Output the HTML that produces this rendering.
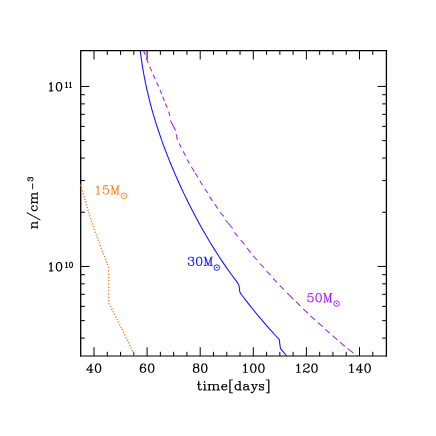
<!DOCTYPE html>
<html><head><meta charset="utf-8"><style>
html,body{margin:0;padding:0;background:#fff;}
svg{display:block;font-family:"Liberation Serif",serif;}
</style></head><body>
<svg width="436" height="436" viewBox="0 0 436 436">
<rect width="436" height="436" fill="#fff"/>
<path d="M80.05 50.70H387.05" stroke="#000" stroke-width="1.3" fill="none"/>
<path d="M80.05 356.00H387.05" stroke="#000" stroke-width="1.08" fill="none"/>
<path d="M80.70 50.05V356.60" stroke="#000" stroke-width="1.3" fill="none"/>
<path d="M386.40 50.05V356.60" stroke="#000" stroke-width="1.3" fill="none"/>
<path d="M94.00 356.00v-8.80M94.00 50.70v8.80M107.28 356.00v-4.20M107.28 50.70v4.20M120.55 356.00v-4.20M120.55 50.70v4.20M133.82 356.00v-4.20M133.82 50.70v4.20M147.10 356.00v-8.80M147.10 50.70v8.80M160.38 356.00v-4.20M160.38 50.70v4.20M173.65 356.00v-4.20M173.65 50.70v4.20M186.93 356.00v-4.20M186.93 50.70v4.20M200.20 356.00v-8.80M200.20 50.70v8.80M213.47 356.00v-4.20M213.47 50.70v4.20M226.75 356.00v-4.20M226.75 50.70v4.20M240.02 356.00v-4.20M240.02 50.70v4.20M253.30 356.00v-8.80M253.30 50.70v8.80M266.57 356.00v-4.20M266.57 50.70v4.20M279.85 356.00v-4.20M279.85 50.70v4.20M293.12 356.00v-4.20M293.12 50.70v4.20M306.40 356.00v-8.80M306.40 50.70v8.80M319.67 356.00v-4.20M319.67 50.70v4.20M332.95 356.00v-4.20M332.95 50.70v4.20M346.23 356.00v-4.20M346.23 50.70v4.20M359.50 356.00v-8.80M359.50 50.70v8.80M372.77 356.00v-4.20M372.77 50.70v4.20M80.70 338.08h4.20M386.40 338.08h-4.20M80.70 320.64h4.20M386.40 320.64h-4.20M80.70 306.38h4.20M386.40 306.38h-4.20M80.70 294.33h4.20M386.40 294.33h-4.20M80.70 283.89h4.20M386.40 283.89h-4.20M80.70 274.69h4.20M386.40 274.69h-4.20M80.70 266.45h8.80M386.40 266.45h-8.80M80.70 212.26h4.20M386.40 212.26h-4.20M80.70 180.57h4.20M386.40 180.57h-4.20M80.70 158.08h4.20M386.40 158.08h-4.20M80.70 140.64h4.20M386.40 140.64h-4.20M80.70 126.38h4.20M386.40 126.38h-4.20M80.70 114.33h4.20M386.40 114.33h-4.20M80.70 103.89h4.20M386.40 103.89h-4.20M80.70 94.69h4.20M386.40 94.69h-4.20M80.70 86.45h8.80M386.40 86.45h-8.80" stroke="#000" stroke-width="1.0" fill="none"/>
<path d="M80.50 185.50h0.01M81.41 188.24h0.01M82.32 190.97h0.01M83.18 193.73h0.01M84.02 196.49h0.01M84.86 199.25h0.01M85.65 202.03h0.01M86.43 204.80h0.01M87.21 207.58h0.01M87.99 210.36h0.01M88.85 213.11h0.01M89.71 215.87h0.01M90.57 218.62h0.01M91.48 221.36h0.01M92.38 224.10h0.01M93.29 226.84h0.01M94.24 229.56h0.01M95.28 232.25h0.01M96.33 234.94h0.01M97.38 237.63h0.01M98.41 240.32h0.01M99.35 243.05h0.01M100.30 245.78h0.01M101.30 248.48h0.01M102.30 251.19h0.01M103.36 253.87h0.01M104.50 256.52h0.01M105.64 259.17h0.01M106.63 261.88h0.01M107.60 264.60h0.01M108.60 267.60h0.01M108.61 270.90h0.01M108.63 274.20h0.01M108.64 277.50h0.01M108.66 280.80h0.01M108.67 284.10h0.01M108.69 287.40h0.01M108.70 290.70h0.01M108.72 294.00h0.01M108.73 297.30h0.01M108.75 300.60h0.01M109.00 303.70h0.01M110.60 306.60h0.01M111.90 309.18h0.01M113.19 311.76h0.01M114.49 314.34h0.01M115.78 316.93h0.01M117.08 319.51h0.01M118.37 322.09h0.01M119.67 324.67h0.01M120.96 327.25h0.01M122.26 329.83h0.01M123.56 332.41h0.01M124.81 335.02h0.01M126.05 337.63h0.01M127.28 340.24h0.01M128.52 342.85h0.01M129.76 345.46h0.01M130.99 348.07h0.01M132.23 350.68h0.01M133.46 353.29h0.01M134.70 355.90h0.01" stroke="#ff7a1c" stroke-width="1.5" stroke-linecap="round" fill="none"/>
<path d="M140.24 50.60 L140.86 55.53 L141.54 60.46 L142.29 65.40 L143.10 70.33 L143.98 75.26 L144.93 80.19 L145.94 85.12 L147.02 90.06 L148.16 94.99 L149.37 99.92 L150.65 104.85 L151.99 109.78 L153.40 114.71 L154.87 119.65 L156.40 124.58 L158.00 129.51 L159.66 134.44 L161.37 139.37 L163.15 144.31 L164.98 149.24 L166.87 154.17 L168.81 159.10 L170.81 164.03 L172.87 168.97 L174.98 173.90 L177.14 178.83 L179.36 183.76 L181.63 188.69 L183.95 193.63 L186.33 198.56 L188.76 203.49 L191.26 208.42 L193.80 213.35 L196.41 218.29 L199.08 223.22 L201.82 228.15 L204.62 233.08 L207.49 238.01 L210.44 242.94 L213.47 247.88 L216.58 252.81 L219.78 257.74 L223.07 262.67 L226.47 267.60 L229.97 272.54 L233.59 277.47 L237.33 282.40 L238.90 285.30 L239.40 288.30 L239.55 290.60 L240.30 293.20 L242.54 296.00 L246.22 300.84 L249.99 305.69 L253.87 310.53 L257.85 315.38 L261.94 320.22 L266.13 325.07 L270.42 329.91 L274.82 334.76 L279.31 339.60 L279.75 343.50 L280.50 348.60 L286.70 356.00" stroke="#1414ff" stroke-width="1.08" stroke-linejoin="round" fill="none"/>
<path d="M143.5 50.5L145.2 54.9M146.3 58.3L148.3 63.1M149.7 66.6L151.8 71.4M153.1 74.8L155.2 79M156.6 82.4L158.6 86.5M160 90L161.7 94.1M162.8 96.8L164.4 101M165.3 103.5L167.3 107.8M168.8 111.7L169.7 116.2M170.4 120.4L175.6 130.5M176.3 134.4L177.4 139.9M179.2 143.5L181.2 147.5M183.1 151.2L185.4 155.7M187.1 159.4L189.4 163.6M191.4 167L194.3 171.7M195.2 173L197.9 177.4M199.8 180.8L202.5 185.2M204.8 189L207.8 193M209.5 196.6L212.5 200.9M214.7 204.3L217.9 208.6M219.9 212L223.7 216.4M225.4 220L232.7 228.5M234.4 232.4L237.9 236.5M240.7 240.2L244.7 244.5M247.0 248.2L250.8 252.6M253.2 255.9L257 260M259.8 263.5L263.9 267.7M266.4 271L270.5 275.2M273.1 278.3L277 282.3M279.8 285.7L283.9 289.6M287.0 292.9L293.6 299.3M295.9 301.7L300.4 305.9M303.2 308.9L308 313.3M310.5 315.8L314.9 319.9M318 322.6L322.6 326.7M325.3 329.3L329.8 333.1M332.6 335.6L337.3 339.8M340 342.2L344.8 346.4M347.6 348.7L353.5 353.2M356.8 355.2L357.8 355.8" stroke="#a020f0" stroke-width="1.05" fill="none"/>
<path d="M97.64 363.45L96.33 363.85L96.12 363.98L95.25 365.25L94.77 367.46L94.77 368.84L95.17 370.86L96.10 372.30L96.33 372.44L97.48 372.83L98.45 372.85L99.77 372.44L99.97 372.32L100.84 371.04L101.33 368.84L101.33 367.46L100.92 365.43L99.99 364.00L99.77 363.85L98.61 363.47ZM97.74 364.34L98.35 364.34L98.96 364.64L99.32 365.01L99.67 365.72L100.03 367.54L100.03 368.75L99.65 370.64L99.32 371.29L98.96 371.65L98.35 371.95L97.74 371.95L97.14 371.65L96.77 371.29L96.43 370.58L96.06 368.75L96.06 367.54L96.45 365.66L96.77 365.01L97.14 364.64ZM91.28 363.47L91.04 363.47L90.80 363.63L86.28 369.85L86.32 370.19L86.48 370.35L86.71 370.42L90.29 370.42L90.31 371.93L89.54 371.95L89.24 372.08L89.12 372.28L89.12 372.52L89.22 372.70L89.42 372.83L92.38 372.85L92.60 372.78L92.76 372.62L92.82 372.40L92.68 372.08L92.38 371.95L91.61 371.93L91.61 370.44L93.31 370.40L93.49 370.29L93.61 370.09L93.57 369.75L93.31 369.54L91.61 369.50L91.61 363.89L91.49 363.59ZM90.29 365.84L90.31 369.50L87.62 369.52ZM150.74 363.45L149.43 363.85L149.22 363.98L148.35 365.25L147.87 367.46L147.87 368.84L148.27 370.86L149.20 372.30L149.43 372.44L150.58 372.83L151.55 372.85L152.87 372.44L153.07 372.32L153.94 371.04L154.43 368.84L154.43 367.46L154.02 365.43L153.09 364.00L152.87 363.85L151.71 363.47ZM150.84 364.34L151.45 364.34L152.06 364.64L152.42 365.01L152.77 365.72L153.13 367.54L153.13 368.75L152.75 370.64L152.42 371.29L152.06 371.65L151.45 371.95L150.84 371.95L150.24 371.65L149.87 371.29L149.53 370.58L149.16 368.75L149.16 367.54L149.55 365.66L149.87 365.01L150.24 364.64ZM144.38 363.47L142.89 363.47L141.51 363.98L140.62 364.91L140.21 365.72L139.79 367.38L139.77 369.97L140.17 371.29L140.29 371.51L141.10 372.32L142.48 372.83L143.61 372.83L144.99 372.32L145.80 371.51L146.31 370.13L146.31 369.40L145.86 368.13L144.99 367.22L144.77 367.09L143.61 366.71L142.89 366.71L141.73 367.09L141.51 367.22L141.06 367.62L141.43 366.10L141.77 365.41L142.54 364.64L143.15 364.34L144.16 364.34L144.75 364.64L144.81 364.77L144.34 365.19L144.22 365.51L144.34 365.84L144.85 366.30L145.07 366.37L145.25 366.32L145.80 365.84L145.92 365.51L145.90 364.99L145.48 364.10L145.27 363.89ZM143.35 367.58L143.96 367.88L144.69 368.61L145.03 369.63L145.03 369.91L144.69 370.92L143.96 371.65L143.35 371.95L142.74 371.95L142.14 371.65L141.41 370.92L141.06 369.91L141.06 369.63L141.41 368.61L142.10 367.92L143.11 367.58ZM203.84 363.45L202.53 363.85L202.32 363.98L201.45 365.25L200.97 367.46L200.97 368.84L201.37 370.86L202.30 372.30L202.53 372.44L203.68 372.83L204.65 372.85L205.97 372.44L206.17 372.32L207.04 371.04L207.53 368.84L207.53 367.46L207.12 365.43L206.19 364.00L205.97 363.85L204.81 363.47ZM203.94 364.34L204.55 364.34L205.16 364.64L205.52 365.01L205.87 365.72L206.23 367.54L206.23 368.75L205.85 370.64L205.52 371.29L205.16 371.65L204.55 371.95L203.94 371.95L203.34 371.65L202.97 371.29L202.63 370.58L202.26 368.75L202.26 367.54L202.65 365.66L202.97 365.01L203.34 364.64ZM195.18 363.47L194.02 363.85L193.82 363.98L193.31 364.91L193.29 366.45L193.72 367.34L193.94 367.54L193.39 368.03L192.91 368.96L192.89 370.90L193.39 371.91L193.80 372.32L194.02 372.44L195.34 372.85L197.12 372.83L198.50 372.32L198.98 371.79L199.41 370.90L199.39 368.96L198.90 368.03L198.35 367.54L198.58 367.34L198.98 366.53L199.00 364.99L198.58 364.10L198.27 363.85L196.96 363.45ZM195.44 367.99L196.86 367.99L197.46 368.29L197.83 368.65L198.13 369.26L198.13 370.68L197.83 371.29L197.46 371.65L196.86 371.95L195.44 371.95L194.83 371.65L194.47 371.29L194.16 370.68L194.16 369.26L194.47 368.65L194.83 368.29ZM194.85 364.64L195.44 364.34L196.86 364.34L197.42 364.62L197.73 365.21L197.73 366.22L197.44 366.79L196.86 367.09L195.44 367.09L194.87 366.81L194.57 366.22L194.57 365.21ZM260.99 363.45L259.68 363.85L259.47 363.98L258.60 365.25L258.12 367.46L258.12 368.84L258.52 370.86L259.45 372.30L259.68 372.44L260.83 372.83L261.80 372.85L263.12 372.44L263.32 372.32L264.19 371.04L264.68 368.84L264.68 367.46L264.27 365.43L263.34 364.00L263.12 363.85L261.96 363.47ZM261.09 364.34L261.70 364.34L262.31 364.64L262.67 365.01L263.02 365.72L263.38 367.54L263.38 368.75L263.00 370.64L262.67 371.29L262.31 371.65L261.70 371.95L261.09 371.95L260.49 371.65L260.12 371.29L259.78 370.58L259.41 368.75L259.41 367.54L259.80 365.66L260.12 365.01L260.49 364.64ZM252.89 363.45L251.58 363.85L251.37 363.98L250.50 365.25L250.02 367.46L250.02 368.84L250.42 370.86L251.35 372.30L251.58 372.44L252.73 372.83L253.70 372.85L255.02 372.44L255.22 372.32L256.09 371.04L256.58 368.84L256.58 367.46L256.17 365.43L255.24 364.00L255.02 363.85L253.86 363.47ZM252.99 364.34L253.60 364.34L254.21 364.64L254.57 365.01L254.92 365.72L255.28 367.54L255.28 368.75L254.90 370.64L254.57 371.29L254.21 371.65L253.60 371.95L252.99 371.95L252.39 371.65L252.02 371.29L251.68 370.58L251.31 368.75L251.31 367.54L251.70 365.66L252.02 365.01L252.39 364.64ZM245.72 363.47L245.48 363.47L245.28 363.57L244.08 364.77L243.37 365.11L243.15 365.39L243.19 365.74L243.35 365.90L243.58 365.96L243.78 365.92L244.75 365.43L244.75 371.93L243.58 371.95L243.35 372.02L243.19 372.18L243.13 372.40L243.25 372.70L243.46 372.83L247.22 372.85L247.53 372.72L247.65 372.52L247.63 372.22L247.40 372.00L246.05 371.93L246.05 363.89L245.93 363.59ZM314.09 363.45L312.78 363.85L312.57 363.98L311.70 365.25L311.22 367.46L311.22 368.84L311.62 370.86L312.55 372.30L312.78 372.44L313.93 372.83L314.90 372.85L316.22 372.44L316.42 372.32L317.29 371.04L317.78 368.84L317.78 367.46L317.37 365.43L316.44 364.00L316.22 363.85L315.06 363.47ZM314.19 364.34L314.80 364.34L315.41 364.64L315.77 365.01L316.12 365.72L316.48 367.54L316.48 368.75L316.10 370.64L315.77 371.29L315.41 371.65L314.80 371.95L314.19 371.95L313.59 371.65L313.22 371.29L312.88 370.58L312.51 368.75L312.51 367.54L312.90 365.66L313.22 365.01L313.59 364.64ZM304.27 363.85L304.05 363.98L303.64 364.38L303.14 365.39L303.16 366.10L303.74 366.71L303.97 366.77L304.19 366.71L304.78 366.10L304.78 365.74L304.23 365.17L304.31 365.01L304.64 364.68L305.65 364.34L307.11 364.34L307.71 364.64L308.08 365.01L308.38 365.62L308.38 366.22L308.06 366.85L307.03 367.54L304.57 368.75L303.64 369.65L303.14 371.02L303.16 372.58L303.26 372.72L303.44 372.83L303.79 372.78L303.99 372.52L304.01 371.79L304.17 371.63L304.66 371.63L306.68 372.83L308.60 372.80L309.15 372.32L309.64 371.39L309.68 370.38L309.62 370.15L309.41 369.97L309.11 369.95L308.91 370.07L308.79 370.38L308.79 370.98L308.52 371.25L307.92 371.55L306.86 371.55L304.98 370.78L304.19 370.70L304.35 370.23L305.08 369.50L305.85 369.12L307.88 368.31L309.13 367.46L309.66 366.45L309.64 365.31L309.23 364.50L308.75 363.98L307.37 363.47L305.59 363.45ZM298.82 363.47L298.58 363.47L298.38 363.57L297.18 364.77L296.47 365.11L296.25 365.39L296.29 365.74L296.45 365.90L296.68 365.96L296.88 365.92L297.85 365.43L297.85 371.93L296.68 371.95L296.45 372.02L296.29 372.18L296.23 372.40L296.35 372.70L296.56 372.83L300.32 372.85L300.63 372.72L300.75 372.52L300.73 372.22L300.50 372.00L299.15 371.93L299.15 363.89L299.03 363.59ZM367.19 363.45L365.88 363.85L365.67 363.98L364.80 365.25L364.32 367.46L364.32 368.84L364.72 370.86L365.65 372.30L365.88 372.44L367.03 372.83L368.00 372.85L369.32 372.44L369.52 372.32L370.39 371.04L370.88 368.84L370.88 367.46L370.47 365.43L369.54 364.00L369.32 363.85L368.16 363.47ZM367.29 364.34L367.90 364.34L368.51 364.64L368.87 365.01L369.22 365.72L369.58 367.54L369.58 368.75L369.20 370.64L368.87 371.29L368.51 371.65L367.90 371.95L367.29 371.95L366.69 371.65L366.32 371.29L365.98 370.58L365.61 368.75L365.61 367.54L366.00 365.66L366.32 365.01L366.69 364.64ZM360.83 363.47L360.59 363.47L360.35 363.63L355.83 369.85L355.87 370.19L356.03 370.35L356.26 370.42L359.84 370.42L359.86 371.93L359.09 371.95L358.79 372.08L358.67 372.28L358.67 372.52L358.77 372.70L358.97 372.83L361.93 372.85L362.15 372.78L362.31 372.62L362.37 372.40L362.23 372.08L361.93 371.95L361.16 371.93L361.16 370.44L362.86 370.40L363.04 370.29L363.16 370.09L363.12 369.75L362.86 369.54L361.16 369.50L361.16 363.89L361.04 363.59ZM359.84 365.84L359.86 369.50L357.17 369.52ZM351.92 363.47L351.68 363.47L351.48 363.57L350.28 364.77L349.57 365.11L349.35 365.39L349.39 365.74L349.55 365.90L349.78 365.96L349.98 365.92L350.95 365.43L350.95 371.93L349.78 371.95L349.55 372.02L349.39 372.18L349.33 372.40L349.45 372.70L349.66 372.83L353.42 372.85L353.73 372.72L353.85 372.52L353.83 372.22L353.60 372.00L352.25 371.93L352.25 363.89L352.13 363.59ZM260.29 383.93L259.48 384.33L258.95 384.82L258.83 385.14L258.83 385.95L258.89 386.17L259.48 386.76L260.29 387.17L262.25 387.93L263.02 388.32L263.28 388.58L263.28 388.99L263.02 389.25L262.41 389.55L261.00 389.55L260.39 389.25L260.02 388.89L259.58 388.06L259.40 387.95L259.15 387.95L258.95 388.08L258.83 388.38L258.87 390.18L259.09 390.40L259.40 390.43L259.60 390.30L259.82 389.94L260.69 390.40L260.89 390.45L262.72 390.40L263.65 389.92L264.11 389.41L264.18 389.19L264.18 387.98L264.11 387.75L263.53 387.17L262.72 386.76L260.75 385.99L259.98 385.61L259.72 385.34L259.98 385.08L260.59 384.78L262.01 384.78L262.62 385.08L262.98 385.44L263.43 386.27L263.61 386.38L263.85 386.38L264.05 386.25L264.18 385.95L264.13 384.15L263.91 383.93L263.61 383.90L263.41 384.03L263.18 384.39L262.31 383.93L262.11 383.88ZM257.88 383.95L257.66 383.88L255.22 383.88L255.00 383.95L254.84 384.11L254.80 384.45L255.00 384.71L255.22 384.78L256.16 384.82L254.60 388.42L253.06 384.80L253.61 384.78L253.91 384.65L254.05 384.33L253.93 384.03L253.61 383.88L251.18 383.88L250.95 383.95L250.79 384.11L250.73 384.33L250.87 384.65L251.05 384.76L251.70 384.80L253.91 389.94L253.26 391.32L252.49 392.09L252.33 392.17L251.90 391.70L251.58 391.58L251.26 391.70L250.85 392.11L250.73 392.43L250.77 392.61L251.26 393.16L251.58 393.28L252.19 393.24L253.12 392.75L253.93 391.94L254.86 390.12L257.13 384.80L257.78 384.76L257.96 384.65L258.06 384.51L258.08 384.21ZM243.56 384.82L243.44 385.14L243.46 385.67L243.58 385.87L243.88 385.99L244.41 385.97L244.59 385.87L244.74 385.55L244.72 385.04L245.20 384.78L246.62 384.78L247.23 385.08L247.49 385.34L247.49 385.75L247.29 385.95L245.02 386.31L243.78 386.72L243.56 386.86L243.07 387.77L243.03 388.79L243.07 388.99L243.58 389.92L243.78 390.04L244.94 390.43L246.31 390.45L246.52 390.40L247.33 390.00L247.81 389.55L247.94 389.80L248.14 390.00L248.95 390.40L249.56 390.45L249.88 390.30L250.00 390.00L249.94 389.78L249.74 389.60L249.35 389.55L249.09 389.29L248.79 388.68L248.77 385.83L248.34 384.94L247.85 384.41L246.84 383.90L245.10 383.88L244.90 383.93L244.09 384.33ZM247.49 386.84L247.49 388.58L246.82 389.25L246.21 389.55L245.20 389.55L244.61 389.25L244.33 388.68L244.33 388.08L244.63 387.49L245.24 387.19ZM223.88 383.90L222.50 384.41L221.69 385.22L221.18 386.60L221.18 387.73L221.69 389.11L222.50 389.92L223.88 390.43L225.01 390.43L226.39 389.92L227.26 389.01L227.32 388.79L227.20 388.48L227.00 388.36L226.69 388.38L225.76 389.23L224.79 389.55L224.14 389.55L223.53 389.25L222.80 388.52L222.46 387.51L222.46 387.23L227.00 387.19L227.18 387.08L227.30 386.88L227.30 385.83L226.79 384.82L226.27 384.33L225.38 383.90ZM222.64 386.27L222.80 385.81L223.53 385.08L224.14 384.78L225.15 384.78L225.72 385.06L226.02 385.65L226.00 386.31ZM207.44 384.15L207.41 384.45L207.62 384.71L207.84 384.78L208.61 384.80L208.61 389.53L207.84 389.55L207.54 389.68L207.39 390.00L207.46 390.22L207.66 390.40L210.68 390.45L210.90 390.38L211.06 390.22L211.10 389.88L210.90 389.62L210.68 389.55L209.91 389.53L209.91 385.75L210.53 385.12L211.55 384.78L212.19 384.78L212.76 385.06L213.06 385.65L213.06 389.53L212.30 389.55L211.99 389.68L211.85 390.00L211.91 390.22L212.07 390.38L212.30 390.45L215.13 390.45L215.35 390.38L215.51 390.22L215.56 389.88L215.35 389.62L215.13 389.55L214.36 389.53L214.36 385.75L214.99 385.12L216.00 384.78L216.65 384.78L217.22 385.06L217.52 385.65L217.52 389.53L216.75 389.55L216.53 389.62L216.32 389.88L216.37 390.22L216.53 390.38L216.75 390.45L219.59 390.45L219.81 390.38L219.99 390.18L220.01 389.88L219.81 389.62L219.59 389.55L218.82 389.53L218.82 385.55L218.78 385.34L218.37 384.53L218.07 384.29L216.91 383.90L215.94 383.88L214.62 384.29L214.40 384.41L214.04 384.78L213.91 384.53L213.73 384.35L212.30 383.88L211.32 383.90L210.17 384.29L209.93 384.43L209.78 384.03L209.46 383.88L207.84 383.88L207.62 383.95ZM203.20 383.93L203.06 384.03L202.96 384.21L202.96 384.45L203.08 384.65L203.38 384.78L204.15 384.80L204.15 389.53L203.38 389.55L203.16 389.62L202.96 389.88L202.98 390.18L203.16 390.38L203.38 390.45L206.40 390.40L206.54 390.30L206.65 390.12L206.65 389.88L206.52 389.68L206.22 389.55L205.45 389.53L205.41 384.15L205.23 383.95L205.00 383.88ZM238.50 381.07L238.32 381.17L238.19 381.37L238.19 381.62L238.30 381.80L238.62 381.94L239.39 381.96L239.39 384.41L238.42 383.93L238.22 383.88L237.24 383.90L235.87 384.41L235.06 385.22L234.93 385.44L234.55 386.60L234.55 387.73L235.06 389.11L235.87 389.92L236.09 390.04L237.24 390.43L238.22 390.45L238.42 390.40L239.37 389.90L239.45 390.22L239.71 390.43L241.58 390.43L241.76 390.32L241.88 390.12L241.88 389.88L241.78 389.70L241.45 389.55L240.69 389.53L240.67 381.37L240.54 381.17L240.24 381.05ZM237.51 384.78L238.11 384.78L238.72 385.08L239.39 385.75L239.39 388.58L238.72 389.25L238.11 389.55L237.51 389.55L236.90 389.25L236.17 388.52L235.83 387.51L235.83 386.82L236.17 385.81L236.90 385.08ZM204.60 381.05L204.28 381.17L203.87 381.58L203.75 381.90L203.87 382.22L204.28 382.63L204.60 382.75L204.92 382.63L205.33 382.22L205.45 381.90L205.33 381.58L204.92 381.17ZM198.40 381.07L198.20 381.19L198.08 381.50L198.08 383.86L197.13 383.93L196.91 384.15L196.88 384.45L196.99 384.63L197.19 384.76L198.08 384.80L198.08 388.38L198.55 389.82L198.73 390.00L199.54 390.40L200.67 390.43L201.68 389.90L202.17 388.99L202.19 388.66L202.09 388.48L201.95 388.38L201.76 388.34L201.54 388.40L201.36 388.58L201.04 389.25L200.45 389.55L199.94 389.55L199.70 389.29L199.38 388.32L199.38 384.80L200.67 384.76L200.87 384.63L201.00 384.33L200.87 384.03L200.67 383.90L199.38 383.86L199.34 381.31L199.23 381.17L199.05 381.07ZM266.04 379.45L265.84 379.57L265.71 379.88L265.78 380.10L265.98 380.28L268.14 380.34L268.14 392.37L266.04 392.41L265.78 392.61L265.73 392.96L265.86 393.16L266.16 393.28L269.12 393.26L269.32 393.14L269.44 392.83L269.42 379.75L269.30 379.55L269.00 379.43ZM229.59 379.45L229.39 379.57L229.26 379.88L229.28 392.96L229.41 393.16L229.71 393.28L232.67 393.26L232.87 393.14L232.99 392.83L232.93 392.61L232.73 392.43L230.56 392.37L230.56 380.34L232.67 380.30L232.93 380.10L232.97 379.75L232.85 379.55L232.55 379.43ZM58.64 82.00L57.33 82.40L57.13 82.53L56.26 83.80L55.77 86.01L55.77 87.39L56.17 89.41L57.11 90.85L57.33 90.99L58.48 91.38L59.45 91.40L60.77 90.99L60.97 90.87L61.84 89.59L62.33 87.39L62.33 86.01L61.93 83.98L60.99 82.55L60.77 82.40L59.62 82.02ZM58.75 82.89L59.35 82.89L59.96 83.19L60.33 83.56L60.67 84.27L61.03 86.09L61.03 87.31L60.65 89.19L60.33 89.84L59.96 90.20L59.35 90.50L58.75 90.50L58.14 90.20L57.77 89.84L57.43 89.13L57.07 87.31L57.07 86.09L57.45 84.21L57.77 83.56L58.14 83.19ZM51.48 82.02L51.23 82.02L51.03 82.12L49.84 83.32L49.13 83.66L48.90 83.94L48.95 84.29L49.11 84.45L49.33 84.51L49.53 84.47L50.50 83.98L50.50 90.48L49.33 90.50L49.11 90.57L48.95 90.73L48.88 90.95L49.01 91.25L49.21 91.38L52.98 91.40L53.28 91.27L53.40 91.07L53.38 90.77L53.16 90.55L51.80 90.48L51.80 82.45L51.68 82.14ZM58.64 262.00L57.33 262.40L57.13 262.53L56.26 263.80L55.77 266.01L55.77 267.39L56.17 269.41L57.11 270.85L57.33 270.99L58.48 271.38L59.45 271.40L60.77 270.99L60.97 270.87L61.84 269.59L62.33 267.39L62.33 266.01L61.93 263.98L60.99 262.55L60.77 262.40L59.62 262.02ZM58.75 262.89L59.35 262.89L59.96 263.19L60.33 263.56L60.67 264.27L61.03 266.09L61.03 267.31L60.65 269.19L60.33 269.84L59.96 270.20L59.35 270.50L58.75 270.50L58.14 270.20L57.77 269.84L57.43 269.13L57.07 267.31L57.07 266.09L57.45 264.21L57.77 263.56L58.14 263.19ZM51.48 262.02L51.23 262.02L51.03 262.12L49.84 263.32L49.13 263.66L48.90 263.94L48.95 264.29L49.11 264.45L49.33 264.51L49.53 264.47L50.50 263.98L50.50 270.48L49.33 270.50L49.11 270.57L48.95 270.73L48.88 270.95L49.01 271.25L49.21 271.38L52.98 271.40L53.28 271.27L53.40 271.07L53.38 270.77L53.16 270.55L51.80 270.48L51.80 262.44L51.68 262.14ZM66.77 81.71L66.59 81.71L66.46 81.78L65.76 82.57L65.29 82.85L65.18 83.08L65.21 83.39L65.29 83.50L65.46 83.61L65.64 83.61L66.07 83.39L66.07 87.14L65.46 87.17L65.27 87.30L65.18 87.50L65.18 87.70L65.27 87.90L65.46 88.03L67.58 88.04L67.70 88.02L67.83 87.92L67.95 87.70L67.91 87.39L67.76 87.21L67.58 87.16L67.06 87.14L67.06 82.14L67.03 82.00L66.96 81.84ZM70.66 81.71L70.48 81.71L70.36 81.78L69.66 82.57L69.19 82.85L69.08 83.08L69.11 83.39L69.19 83.50L69.36 83.61L69.54 83.61L69.97 83.39L69.97 87.14L69.36 87.17L69.17 87.30L69.08 87.50L69.08 87.70L69.17 87.90L69.36 88.03L71.47 88.04L71.60 88.02L71.73 87.92L71.85 87.70L71.81 87.39L71.66 87.21L71.47 87.16L70.96 87.14L70.96 82.14L70.93 82.00L70.86 81.84ZM70.78 261.70L70.63 261.72L69.89 262.04L69.76 262.18L69.33 262.92L69.27 263.10L69.05 264.34L69.04 265.26L69.27 266.64L69.33 266.82L69.82 267.64L69.99 267.77L70.63 268.02L71.22 268.04L71.37 268.02L72.11 267.70L72.24 267.56L72.67 266.82L72.73 266.64L72.95 265.40L72.96 264.48L72.73 263.10L72.67 262.92L72.18 262.10L72.01 261.97L71.37 261.72ZM70.85 262.58L71.15 262.58L71.44 262.75L71.60 262.93L71.77 263.34L71.97 264.51L71.97 265.23L71.75 266.44L71.60 266.81L71.44 266.99L71.15 267.16L70.85 267.16L70.56 266.99L70.40 266.81L70.23 266.40L70.03 265.23L70.03 264.51L70.25 263.30L70.40 262.93L70.56 262.75ZM66.81 261.71L66.64 261.71L66.51 261.78L65.81 262.57L65.34 262.86L65.23 263.08L65.26 263.39L65.34 263.50L65.51 263.61L65.69 263.61L66.12 263.39L66.12 267.15L65.51 267.17L65.32 267.30L65.23 267.50L65.23 267.70L65.32 267.90L65.51 268.03L67.62 268.04L67.75 268.02L67.88 267.93L68.00 267.70L67.96 267.39L67.81 267.21L67.62 267.16L67.11 267.15L67.11 262.14L67.08 262.00L67.01 261.84ZM31.45 204.18L31.81 204.18L32.03 203.99L32.10 203.77L32.12 203.04L36.81 203.04L36.83 203.77L36.94 204.04L37.08 204.16L37.30 204.22L37.52 204.16L37.73 203.95L37.77 201.03L37.73 200.85L37.58 200.67L37.30 200.58L37.12 200.61L36.94 200.75L36.83 201.03L36.81 201.75L33.03 201.75L32.44 201.18L32.10 200.20L32.10 199.56L32.36 199.05L32.95 198.73L36.81 198.73L36.83 199.46L36.94 199.73L37.08 199.85L37.30 199.91L37.52 199.85L37.70 199.67L37.77 199.46L37.77 196.71L37.73 196.54L37.58 196.36L37.30 196.26L37.12 196.30L36.94 196.44L36.83 196.71L36.81 197.44L33.03 197.44L32.44 196.87L32.10 195.89L32.10 195.24L32.36 194.73L32.95 194.42L36.81 194.42L36.83 195.15L36.94 195.42L37.08 195.54L37.30 195.60L37.58 195.50L37.70 195.36L37.77 195.15L37.77 192.40L37.70 192.19L37.48 191.99L37.12 191.99L36.89 192.19L36.83 192.40L36.81 193.13L32.84 193.13L32.64 193.17L31.83 193.56L31.59 193.83L31.18 195.01L31.16 195.93L31.59 197.24L32.06 197.75L31.63 198.07L31.16 199.46L31.18 200.38L31.59 201.56L31.71 201.73L31.35 201.85L31.22 201.99L31.16 202.20L31.16 203.77L31.22 203.99ZM31.16 208.47L31.63 209.87L32.56 210.79L33.92 211.26L34.87 211.28L36.31 210.83L37.26 209.92L37.75 208.61L37.77 207.69L37.26 206.24L36.37 205.38L36.08 205.28L35.90 205.32L35.66 205.55L35.66 205.91L36.49 206.75L36.83 207.73L36.83 208.38L36.51 209.00L35.84 209.65L34.83 209.98L34.10 209.98L33.09 209.65L32.42 209.00L32.10 208.38L32.10 207.40L32.42 206.77L32.64 206.55L33.03 206.91L33.37 206.95L33.53 206.87L34.02 206.40L34.12 206.12L34.02 205.85L33.53 205.38L33.25 205.28L32.84 205.28L32.56 205.38L31.61 206.32L31.18 207.18ZM31.35 228.82L31.63 228.92L31.81 228.88L31.99 228.74L32.10 228.47L32.12 227.74L36.81 227.74L36.83 228.47L36.94 228.74L37.08 228.86L37.30 228.92L37.48 228.88L37.66 228.74L37.77 228.47L37.77 225.72L37.73 225.55L37.58 225.37L37.30 225.27L37.12 225.31L36.94 225.45L36.83 225.72L36.81 226.45L33.03 226.45L32.44 225.88L32.10 224.90L32.10 224.25L32.36 223.74L32.95 223.43L36.81 223.43L36.83 224.15L36.94 224.43L37.08 224.55L37.30 224.60L37.58 224.51L37.70 224.37L37.77 224.15L37.77 221.41L37.73 221.23L37.58 221.06L37.30 220.96L37.12 221.00L36.94 221.14L36.83 221.41L36.81 222.14L32.84 222.14L32.64 222.17L31.83 222.57L31.67 222.70L31.16 224.15L31.18 225.08L31.59 226.25L31.71 226.43L31.35 226.55L31.22 226.68L31.16 226.90L31.16 228.47L31.20 228.64ZM26.77 212.57L26.73 212.90L26.97 213.20L39.75 220.16L40.13 220.29L40.36 220.23L40.54 220.06L40.58 219.72L40.34 219.43L27.56 212.47L27.17 212.34L26.95 212.39ZM27.38 179.70L27.66 180.51L27.96 180.84L28.61 181.18L29.14 181.18L29.29 181.09L29.59 180.76L29.65 180.55L29.62 180.41L29.54 180.26L29.29 180.01L29.14 179.93L28.86 179.93L28.71 180.01L28.50 180.23L28.34 180.06L28.15 179.50L28.15 178.64L28.29 178.36L28.59 178.20L29.16 178.20L29.44 178.34L29.60 178.64L29.62 179.44L29.79 179.64L30.00 179.70L30.21 179.64L30.38 179.44L30.40 178.64L30.56 178.31L30.74 178.14L31.30 177.95L31.91 177.95L32.24 178.11L32.44 178.31L32.60 178.64L32.60 179.50L32.41 180.06L32.25 180.23L32.04 180.01L31.89 179.93L31.61 179.93L31.46 180.01L31.21 180.26L31.12 180.41L31.10 180.55L31.12 180.69L31.21 180.84L31.54 181.14L31.75 181.20L32.09 181.19L32.79 180.84L33.04 180.59L33.14 180.41L33.40 179.55L33.38 178.40L33.14 177.69L33.04 177.51L32.67 177.19L32.09 176.91L31.25 176.90L31.07 176.94L30.46 177.26L30.11 177.61L29.93 177.44L29.39 177.18L28.41 177.16L27.82 177.44L27.70 177.54L27.61 177.69L27.35 178.55ZM32.25 183.6h0.9v5.7h-0.9Z" fill="#000" fill-rule="evenodd"/>
<path d="M110.61 185.37L110.49 185.49L110.43 185.69L110.49 185.90L110.61 186.02L110.81 186.08L111.64 186.10L111.64 193.79L110.81 193.82L110.61 193.88L110.45 194.08L110.49 194.40L110.61 194.52L110.81 194.58L113.24 194.58L113.44 194.52L113.60 194.32L113.60 194.08L113.36 193.84L112.41 193.79L112.43 188.15L114.48 194.28L114.66 194.52L114.86 194.58L115.06 194.52L115.24 194.28L117.29 188.15L117.31 193.79L116.36 193.84L116.16 194.00L116.12 194.32L116.28 194.52L116.48 194.58L119.31 194.58L119.52 194.52L119.64 194.40L119.70 194.20L119.64 194.00L119.52 193.88L119.31 193.82L118.48 193.79L118.48 186.10L119.31 186.08L119.52 186.02L119.68 185.82L119.64 185.49L119.52 185.37L119.31 185.31L117.69 185.31L117.49 185.37L117.37 185.49L115.06 192.36L112.75 185.49L112.63 185.37L112.43 185.31L110.81 185.31ZM103.80 185.33L103.54 185.61L102.73 189.66L102.79 189.95L102.99 190.11L103.24 190.11L104.11 189.28L105.18 188.91L106.29 188.91L106.94 189.24L107.63 189.93L108.00 191.00L108.00 191.73L107.63 192.80L106.94 193.49L106.29 193.82L105.18 193.82L104.11 193.45L103.82 193.17L103.70 192.92L104.25 192.38L104.29 192.05L103.64 191.41L103.32 191.45L102.79 191.97L102.73 192.17L102.75 192.70L103.20 193.59L103.72 194.12L105.00 194.56L106.50 194.56L107.65 194.18L108.70 193.19L109.15 191.91L109.15 190.82L108.70 189.54L107.77 188.61L106.50 188.17L105.14 188.15L103.78 188.59L103.74 188.53L104.17 186.48L106.03 186.48L108.06 186.08L108.30 185.90L108.34 185.57L108.18 185.37L107.97 185.31ZM98.38 185.33L98.05 185.37L96.82 186.61L96.03 186.99L95.87 187.19L95.91 187.52L96.03 187.64L96.23 187.70L97.24 187.23L97.47 187.05L97.47 193.79L96.23 193.82L96.03 193.88L95.91 194.00L95.85 194.20L95.91 194.40L96.11 194.56L99.88 194.58L100.08 194.52L100.24 194.32L100.24 194.08L100.00 193.84L98.64 193.79L98.64 185.69L98.58 185.49Z" fill="#ff7f24" fill-rule="evenodd"/><circle cx="123.9" cy="195.8" r="2.8" fill="none" stroke="#ff7f24" stroke-width="0.95"/><circle cx="123.9" cy="195.8" r="0.75" fill="#ff7f24"/>
<path d="M203.81 256.77L203.69 256.89L203.63 257.10L203.69 257.30L203.81 257.42L204.01 257.48L204.84 257.50L204.84 265.20L204.01 265.22L203.81 265.28L203.65 265.48L203.69 265.80L203.81 265.92L204.01 265.98L206.44 265.98L206.64 265.92L206.80 265.72L206.80 265.48L206.56 265.24L205.61 265.20L205.63 259.55L207.68 265.68L207.86 265.92L208.06 265.98L208.26 265.92L208.44 265.68L210.49 259.55L210.51 265.20L209.56 265.24L209.36 265.40L209.32 265.72L209.48 265.92L209.68 265.98L212.51 265.98L212.72 265.92L212.84 265.80L212.90 265.60L212.84 265.40L212.72 265.28L212.51 265.22L211.68 265.20L211.68 257.50L212.51 257.48L212.72 257.42L212.88 257.22L212.84 256.89L212.72 256.77L212.51 256.71L210.90 256.71L210.69 256.77L210.57 256.89L208.26 263.76L205.95 256.89L205.83 256.77L205.63 256.71L204.01 256.71ZM198.75 256.71L197.33 257.18L197.21 257.28L196.40 258.49L195.93 260.66L195.93 262.04L196.34 264.06L197.21 265.42L197.45 265.58L198.60 265.96L199.56 265.98L200.97 265.52L201.09 265.42L201.90 264.20L202.37 262.04L202.37 260.66L201.96 258.63L201.09 257.28L200.85 257.12L199.70 256.73ZM198.81 257.48L199.49 257.48L200.14 257.80L200.47 258.13L200.81 258.82L201.20 260.74L201.20 261.96L200.81 263.88L200.47 264.57L200.14 264.89L199.49 265.22L198.81 265.22L198.16 264.89L197.83 264.57L197.49 263.88L197.10 261.96L197.10 260.74L197.49 258.82L197.83 258.13L198.16 257.80ZM190.10 256.73L188.82 257.18L188.30 257.70L187.85 258.59L187.85 259.24L188.42 259.85L188.62 259.91L188.82 259.85L189.35 259.32L189.41 259.12L189.35 258.92L188.80 258.37L188.92 258.13L189.25 257.82L190.28 257.48L191.80 257.48L192.37 257.76L192.69 258.37L192.69 259.46L192.41 260.03L191.80 260.36L190.52 260.38L190.32 260.54L190.26 260.74L190.32 260.94L190.52 261.10L191.80 261.12L192.45 261.45L192.73 261.73L193.10 262.81L193.10 263.92L192.77 264.57L192.45 264.89L191.80 265.22L190.28 265.22L189.25 264.87L188.92 264.57L188.80 264.32L189.35 263.78L189.39 263.45L188.82 262.85L188.62 262.79L188.42 262.85L187.89 263.37L187.83 263.58L187.85 264.10L188.30 264.99L188.94 265.58L190.24 265.98L192.00 265.96L193.28 265.52L193.80 264.99L194.25 264.10L194.25 262.64L193.80 261.75L192.87 260.82L193.28 260.66L193.40 260.54L193.84 259.65L193.84 258.19L193.40 257.30L193.16 257.12L191.86 256.71Z" fill="#1414ff" fill-rule="evenodd"/><circle cx="216.8" cy="267.6" r="2.8" fill="none" stroke="#1414ff" stroke-width="0.95"/><circle cx="216.8" cy="267.6" r="0.75" fill="#1414ff"/>
<path d="M323.31 293.17L323.19 293.29L323.13 293.50L323.19 293.70L323.31 293.82L323.51 293.88L324.34 293.90L324.34 301.60L323.51 301.62L323.31 301.68L323.15 301.88L323.19 302.20L323.31 302.32L323.51 302.38L325.94 302.38L326.14 302.32L326.30 302.12L326.30 301.88L326.06 301.64L325.11 301.60L325.13 295.95L327.18 302.08L327.36 302.32L327.56 302.38L327.76 302.32L327.94 302.08L329.99 295.95L330.01 301.60L329.06 301.64L328.86 301.80L328.82 302.12L328.98 302.32L329.18 302.38L332.01 302.38L332.22 302.32L332.34 302.20L332.40 302.00L332.34 301.80L332.22 301.68L332.01 301.62L331.18 301.60L331.18 293.90L332.01 293.88L332.22 293.82L332.38 293.62L332.34 293.29L332.22 293.17L332.01 293.11L330.39 293.11L330.19 293.17L330.07 293.29L327.76 300.16L325.45 293.29L325.33 293.17L325.13 293.11L323.51 293.11ZM318.25 293.11L316.83 293.58L316.71 293.68L315.90 294.89L315.43 297.06L315.43 298.44L315.84 300.46L316.71 301.82L316.95 301.98L318.10 302.36L319.06 302.38L320.47 301.92L320.59 301.82L321.40 300.60L321.87 298.44L321.87 297.06L321.46 295.03L320.59 293.68L320.35 293.52L319.20 293.13ZM318.31 293.88L318.99 293.88L319.64 294.20L319.97 294.53L320.31 295.22L320.70 297.14L320.70 298.36L320.31 300.28L319.97 300.97L319.64 301.29L318.99 301.62L318.31 301.62L317.66 301.29L317.33 300.97L316.99 300.28L316.60 298.36L316.60 297.14L316.99 295.22L317.33 294.53L317.66 294.20ZM308.40 293.13L308.14 293.41L307.33 297.46L307.39 297.75L307.59 297.91L307.84 297.91L308.71 297.08L309.78 296.71L310.89 296.71L311.54 297.04L312.23 297.73L312.60 298.80L312.60 299.53L312.23 300.60L311.54 301.29L310.89 301.62L309.78 301.62L308.71 301.25L308.42 300.97L308.30 300.72L308.85 300.18L308.89 299.85L308.24 299.21L307.92 299.25L307.39 299.77L307.33 299.98L307.35 300.50L307.80 301.39L308.32 301.92L309.60 302.36L311.10 302.36L312.25 301.98L313.30 300.99L313.75 299.71L313.75 298.62L313.30 297.34L312.37 296.41L311.10 295.97L309.74 295.95L308.38 296.39L308.34 296.33L308.77 294.28L310.63 294.28L312.66 293.88L312.90 293.70L312.94 293.37L312.78 293.17L312.57 293.11Z" fill="#a020f0" fill-rule="evenodd"/><circle cx="336.6" cy="303.6" r="2.8" fill="none" stroke="#a020f0" stroke-width="0.95"/><circle cx="336.6" cy="303.6" r="0.75" fill="#a020f0"/>
</svg></body></html>
